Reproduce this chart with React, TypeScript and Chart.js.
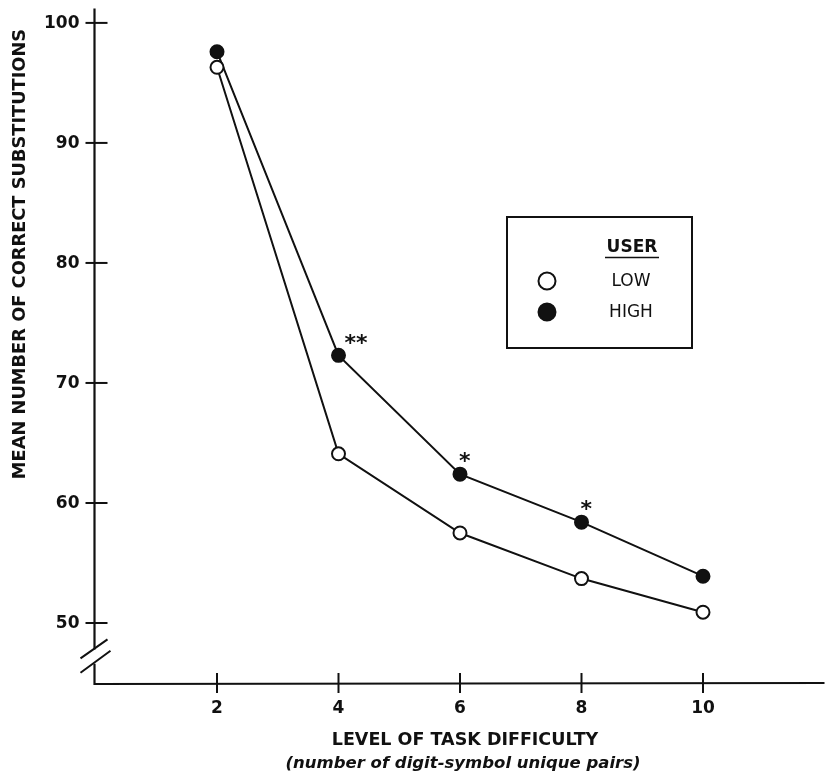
import { useEffect, useRef } from 'react';
import { Chart, registerables } from 'chart.js';

Chart.register(...registerables);

// ---- data ----
const difficulty = [2, 4, 6, 8, 10];
const lowUser = [96.3, 64.1, 57.5, 53.7, 50.9];
const highUser = [97.6, 72.3, 62.4, 58.4, 53.9];
const significance = ['', '**', '*', '*', ''];
const yTicks = [50, 60, 70, 80, 90, 100];
const xTicks = [2, 4, 6, 8, 10];
const seriesNames = ['LOW', 'HIGH'];
const legendTitle = 'USER';
const yTitle = 'MEAN NUMBER OF CORRECT SUBSTITUTIONS';
const xTitle = 'LEVEL OF TASK DIFFICULTY';
const xSubtitle = '(number of digit-symbol unique pairs)';

const FONT = '"DejaVu Sans", "Liberation Sans", Arial, sans-serif';
const INK = '#111';

const decorPlugin = {
  id: 'decor',
  afterDraw(chart: any) {
    const ctx = chart.ctx as CanvasRenderingContext2D;
    const xs = chart.scales.x;
    const ys = chart.scales.y;
    const ax = xs.getPixelForValue(0) - 1;
    const ay = ys.getPixelForValue(45);
    const yTop = ys.getPixelForValue(101.2);
    const xRight = xs.getPixelForValue(12);
    ctx.save();
    ctx.strokeStyle = INK;
    ctx.fillStyle = INK;
    ctx.lineWidth = 2.2;
    ctx.lineCap = 'butt';

    // y axis with break
    const bTop = ys.getPixelForValue(47.8);
    const bBot = ys.getPixelForValue(46.6);
    ctx.beginPath();
    ctx.moveTo(ax, yTop);
    ctx.lineTo(ax, bTop);
    ctx.moveTo(ax, bBot);
    ctx.lineTo(ax, ay + 1);
    ctx.lineTo(xRight, ay);
    ctx.stroke();
    // break slashes
    ctx.lineWidth = 2;
    ctx.beginPath();
    ctx.moveTo(ax - 14, bTop + 9);
    ctx.lineTo(ax + 13, bTop - 10);
    ctx.moveTo(ax - 14, bBot + 9);
    ctx.lineTo(ax + 16, bBot - 13);
    ctx.stroke();

    // y ticks
    ctx.lineWidth = 2;
    ctx.font = `bold 17px ${FONT}`;
    ctx.textAlign = 'right';
    ctx.textBaseline = 'middle';
    yTicks.forEach((v) => {
      const py = ys.getPixelForValue(v);
      ctx.beginPath();
      ctx.moveTo(ax - 9, py);
      ctx.lineTo(ax + 13, py);
      ctx.stroke();
      ctx.fillText(String(v), ax - 15, py + 1);
    });

    // x ticks
    ctx.textAlign = 'center';
    xTicks.forEach((v) => {
      const px = xs.getPixelForValue(v);
      ctx.beginPath();
      ctx.moveTo(px, ay - 10);
      ctx.lineTo(px, ay + 10);
      ctx.stroke();
      ctx.fillText(String(v), px, ay + 26);
    });

    // axis titles
    ctx.font = `bold 17.5px ${FONT}`;
    ctx.fillText(xTitle, 465, 740);
    ctx.font = `italic bold 16.5px ${FONT}`;
    ctx.fillText(xSubtitle, 463, 764);
    ctx.save();
    ctx.translate(20, 254);
    ctx.rotate(-Math.PI / 2);
    ctx.font = `bold 17.8px ${FONT}`;
    ctx.fillText(yTitle, 0, 0);
    ctx.restore();

    // significance markers
    ctx.font = `bold 22px ${FONT}`;
    ctx.textAlign = 'left';
    const meta = chart.getDatasetMeta(1);
    significance.forEach((s, i) => {
      if (!s) return;
      const pt = meta.data[i];
      const offs = s.length > 1 ? [6, -11] : [-1, -12];
      ctx.fillText(s, pt.x + offs[0], pt.y + offs[1]);
    });

    // legend box
    ctx.lineWidth = 2;
    ctx.strokeRect(507, 217, 185, 131);
    ctx.textAlign = 'center';
    ctx.font = `bold 17px ${FONT}`;
    ctx.fillText(legendTitle, 632, 248);
    ctx.lineWidth = 1.6;
    ctx.beginPath();
    ctx.moveTo(605, 257.5);
    ctx.lineTo(659, 257.5);
    ctx.stroke();
    ctx.font = `17px ${FONT}`;
    const rows = [281, 312];
    seriesNames.forEach((n, i) => {
      ctx.fillText(n, 631, rows[i] + 1);
      ctx.beginPath();
      ctx.arc(547, rows[i], 8.5, 0, Math.PI * 2);
      ctx.fillStyle = i === 0 ? '#fff' : INK;
      ctx.fill();
      ctx.lineWidth = 2;
      ctx.stroke();
      ctx.fillStyle = INK;
    });
    ctx.restore();
  },
};

export default function App() {
  const ref = useRef<HTMLCanvasElement>(null);
  useEffect(() => {
    if (!ref.current) return;
    const chart = new Chart(ref.current, {
      type: 'line',
      data: {
        datasets: [
          {
            label: seriesNames[0],
            data: difficulty.map((x, i) => ({ x, y: lowUser[i] })),
            borderColor: INK,
            borderWidth: 2,
            pointRadius: 6.5,
            pointBorderWidth: 2,
            pointBackgroundColor: '#fff',
            pointBorderColor: INK,
            tension: 0,
          },
          {
            label: seriesNames[1],
            data: difficulty.map((x, i) => ({ x, y: highUser[i] })),
            borderColor: INK,
            borderWidth: 2,
            pointRadius: 6.5,
            pointBorderWidth: 2,
            pointBackgroundColor: INK,
            pointBorderColor: INK,
            tension: 0,
          },
        ],
      },
      options: {
        animation: false,
        responsive: false,
        layout: { padding: { left: 95.5, right: 6.5, top: 7.5, bottom: 90 } },
        plugins: { legend: { display: false }, tooltip: { enabled: false } },
        scales: {
          x: { type: 'linear', min: 0, max: 12, display: false },
          y: { type: 'linear', min: 45, max: 101.2, display: false },
        },
      },
      plugins: [decorPlugin],
    });
    return () => chart.destroy();
  }, []);
  return (
    <div style={{ position: 'fixed', left: 0, top: 0, width: 833, height: 773, background: '#fff' }}>
      <canvas ref={ref} width={833} height={773} style={{ display: 'block' }} />
    </div>
  );
}
